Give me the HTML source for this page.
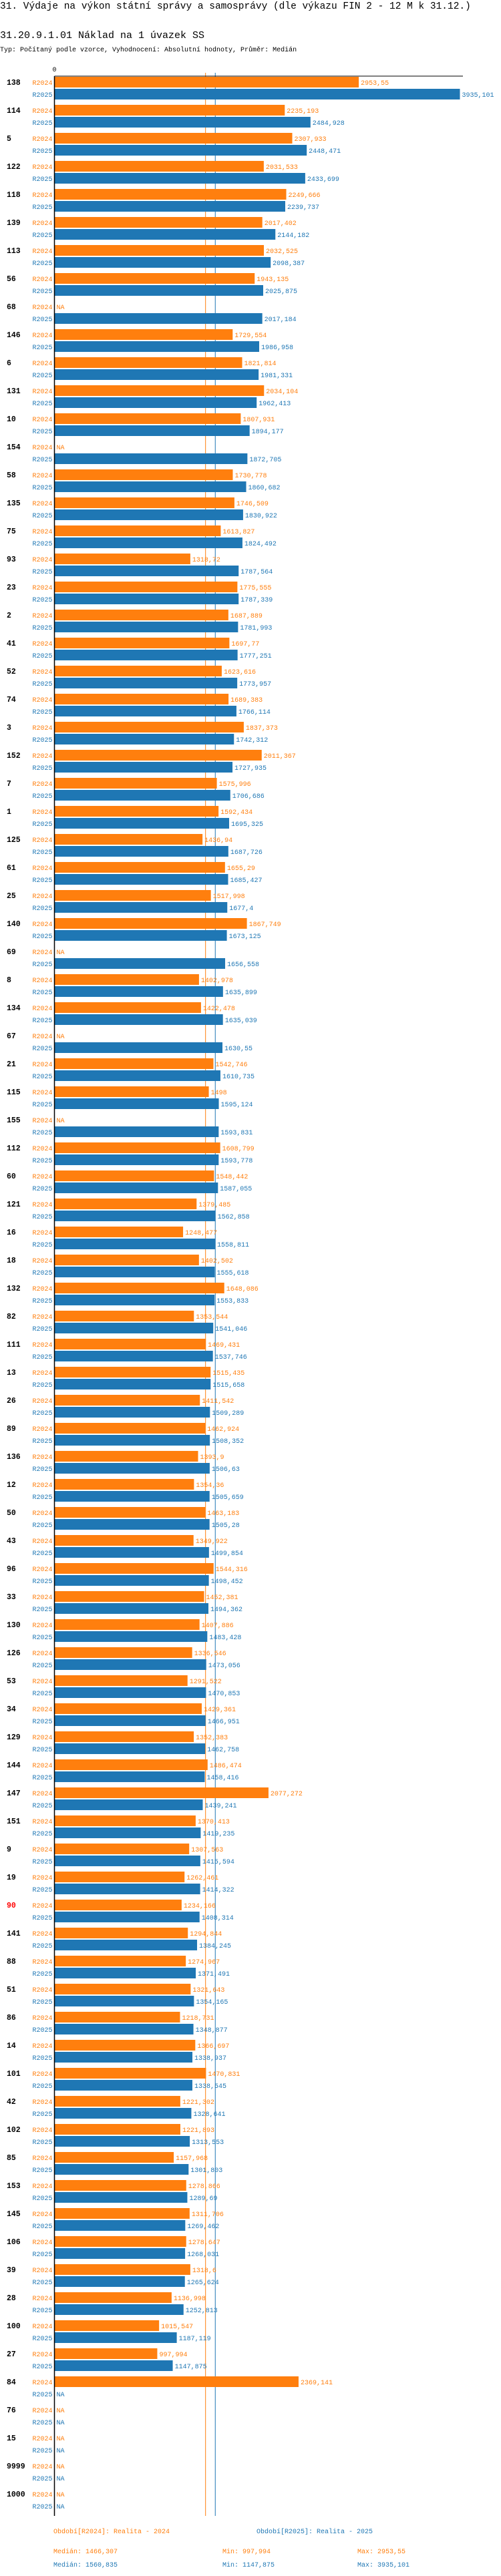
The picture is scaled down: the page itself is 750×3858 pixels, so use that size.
<!DOCTYPE html>
<html><head><meta charset="utf-8">
<style>
html,body{margin:0;padding:0;background:#fff;}
svg{display:block;}
text{font-family:"Liberation Mono",monospace;}
</style></head>
<body>
<svg id="chart" width="750" height="3858" viewBox="0 0 750 3858" xmlns="http://www.w3.org/2000/svg">
<text x="0" y="13" font-size="14.5" fill="#000">31. Výdaje na výkon státní správy a samosprávy (dle výkazu FIN 2 - 12 M k 31.12.)</text>
<text x="0" y="57" font-size="15" fill="#000">31.20.9.1.01 Náklad na 1 úvazek SS</text>
<text x="0" y="77" font-size="10" fill="#000">Typ: Počítaný podle vzorce, Vyhodnocení: Absolutní hodnoty, Průměr: Medián</text>
<g id="grid"></g><g id="bars"></g><g id="axes"></g>
<text x="80" y="3794" font-size="10" fill="#ff7f0e">Období[R2024]: Realita - 2024</text>
<text x="384" y="3794" font-size="10" fill="#1f77b4">Období[R2025]: Realita - 2025</text>
<text x="80" y="3824" font-size="10" fill="#ff7f0e">Medián: 1466,307</text>
<text x="333" y="3824" font-size="10" fill="#ff7f0e">Min: 997,994</text>
<text x="535" y="3824" font-size="10" fill="#ff7f0e">Max: 2953,55</text>
<text x="80" y="3844" font-size="10" fill="#1f77b4">Medián: 1560,835</text>
<text x="333" y="3844" font-size="10" fill="#1f77b4">Min: 1147,875</text>
<text x="535" y="3844" font-size="10" fill="#1f77b4">Max: 3935,101</text>
</svg>
<script>
const categories = ["138","114","5","122","118","139","113","56","68","146","6","131","10","154","58","135","75","93","23","2","41","52","74","3","152","7","1","125","61","25","140","69","8","134","67","21","115","155","112","60","121","16","18","132","82","111","13","26","89","136","12","50","43","96","33","130","126","53","34","129","144","147","151","9","19","90","141","88","51","86","14","101","42","102","85","153","145","106","39","28","100","27","84","76","15","9999","1000"];
const values2024 = [2953.55,2235.193,2307.933,2031.533,2249.666,2017.402,2032.525,1943.135,null,1729.554,1821.814,2034.104,1807.931,null,1730.778,1746.509,1613.827,1318.72,1775.555,1687.889,1697.77,1623.616,1689.383,1837.373,2011.367,1575.996,1592.434,1436.94,1655.29,1517.998,1867.749,null,1402.978,1422.478,null,1542.746,1498,null,1608.799,1548.442,1379.485,1248.477,1402.502,1648.086,1353.544,1469.431,1515.435,1411.542,1462.924,1393.9,1354.36,1463.183,1349.922,1544.316,1452.381,1407.886,1336.546,1291.522,1429.361,1352.383,1486.474,2077.272,1370.413,1307.563,1262.461,1234.166,1294.844,1274.967,1321.643,1218.731,1366.697,1470.831,1221.302,1221.893,1157.968,1278.866,1311.706,1278.647,1318.6,1136.998,1015.547,997.994,2369.141,null,null,null,null];
const values2025 = [3935.101,2484.928,2448.471,2433.699,2239.737,2144.182,2098.387,2025.875,2017.184,1986.958,1981.331,1962.413,1894.177,1872.705,1860.682,1830.922,1824.492,1787.564,1787.339,1781.993,1777.251,1773.957,1766.114,1742.312,1727.935,1706.686,1695.325,1687.726,1685.427,1677.4,1673.125,1656.558,1635.899,1635.039,1630.55,1610.735,1595.124,1593.831,1593.778,1587.055,1562.858,1558.811,1555.618,1553.833,1541.046,1537.746,1515.658,1509.289,1508.352,1506.63,1505.659,1505.28,1499.854,1498.452,1494.362,1483.428,1473.056,1470.853,1466.951,1462.758,1458.416,1439.241,1419.235,1415.594,1414.322,1408.314,1384.245,1371.491,1354.165,1348.877,1338.937,1338.545,1328.641,1313.553,1301.803,1289.69,1269.462,1268.031,1265.624,1252.813,1187.119,1147.875,null,null,null,null,null];
const medians = [1466.307, 1560.835];
const highlighted = ["90"];
const axisMax = 3935.101;

const NS = "http://www.w3.org/2000/svg";
const X0 = 81.5, XMAXPX = 688.5, Y0 = 123, PITCH = 42, BAR_H = 16;
const COL = ["#ff7f0e", "#1f77b4"];
function xScale(v){ return X0 + v * (XMAXPX - X0) / axisMax; }
function yRow(i, s){ return Y0 + i * PITCH + s * 18; }
function fmt(v){ return String(v).replace('.', ','); }
function mk(tag, attrs, parent){
  const e = document.createElementNS(NS, tag);
  for (const k in attrs) e.setAttribute(k, attrs[k]);
  parent.appendChild(e);
  return e;
}
const grid = document.getElementById('grid');
const bars = document.getElementById('bars');
const axes = document.getElementById('axes');
const bottom = Y0 + (categories.length - 1) * PITCH + 18 + 15;

medians.forEach(function(m, s){
  const x = xScale(m);
  const l = mk('line', {x1:x, x2:x, y1:109, y2:bottom, stroke:COL[s], 'stroke-width':1}, grid);
  
  
});

const series = [values2024, values2025];
const sname = ["R2024", "R2025"];
categories.forEach(function(cat, i){
  const cy = yRow(i, 0);
  const t = mk('text', {x:10, y:cy + 4, 'font-size':11.5, 'font-weight':'bold', fill: highlighted.indexOf(cat) >= 0 ? '#ff0000' : '#000'}, bars);
  t.textContent = cat;
  
  
  series.forEach(function(vals, s){
    const y = yRow(i, s);
    const sl = mk('text', {x:78.5, y:y + 4, 'font-size':10, 'text-anchor':'end', fill:COL[s]}, bars);
    sl.textContent = sname[s];
    
    
    const v = vals[i];
    let labelX = X0 + 3;
    if (v !== null){
      const r = mk('rect', {x:X0, y:y - BAR_H/2, width:xScale(v) - X0, height:BAR_H, fill:COL[s]}, bars);
      
      
      labelX = xScale(v) + 3;
    }
    const vl = mk('text', {x:labelX, y:y + 4, 'font-size':10, fill:COL[s]}, bars);
    vl.textContent = v === null ? 'NA' : fmt(v);
    
    
  });
});

const ya = mk('line', {x1:X0, x2:X0, y1:114, y2:bottom, stroke:'#000', 'stroke-width':1.5}, axes);


const xa = mk('line', {x1:X0, x2:693, y1:114, y2:114, stroke:'#000', 'stroke-width':1}, axes);


const z = mk('text', {x:X0, y:107, 'font-size':10, 'text-anchor':'middle', fill:'#000'}, axes);
z.textContent = '0';


</script>
</body></html>
